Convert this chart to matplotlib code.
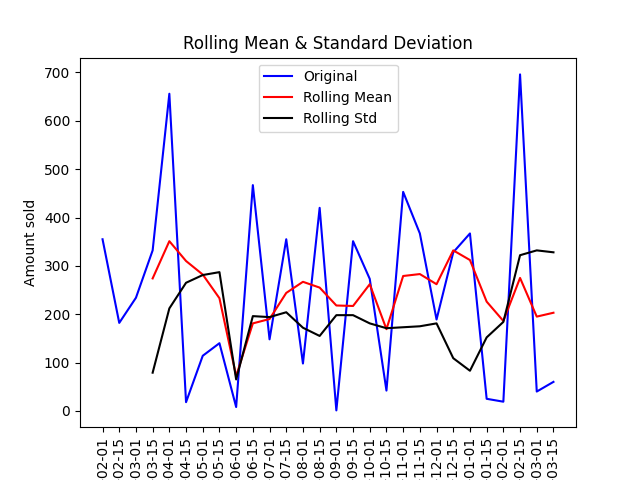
import matplotlib
matplotlib.use("Agg")
import matplotlib.pyplot as plt

# Half-monthly dates (year part is clipped off in the reference)
dates = [
    "2017-02-01", "2017-02-15", "2017-03-01", "2017-03-15", "2017-04-01", "2017-04-15",
    "2017-05-01", "2017-05-15", "2017-06-01", "2017-06-15", "2017-07-01", "2017-07-15",
    "2017-08-01", "2017-08-15", "2017-09-01", "2017-09-15", "2017-10-01", "2017-10-15",
    "2017-11-01", "2017-11-15", "2017-12-01", "2017-12-15", "2018-01-01", "2018-01-15",
    "2018-02-01", "2018-02-15", "2018-03-01", "2018-03-15",
]

original = [355, 182, 234, 332, 656, 18, 114, 140, 8, 467, 148, 355, 98, 420,
            1, 351, 273, 42, 453, 367, 189, 328, 367, 25, 19, 696, 40, 60]

rolling_mean = [None, None, None, 274, 351, 310, 282, 233, 72, 181, 190, 244, 267, 255,
                218, 217, 262, 169, 279, 283, 262, 332, 312, 226, 186, 275, 195, 203]

rolling_std = [None, None, None, 79, 212, 265, 281, 287, 65, 196, 194, 204, 172, 155,
               198, 198, 181, 171, 173, 175, 181, 109, 83, 152, 184, 322, 332, 328]

mean_vals = [float("nan") if v is None else v for v in rolling_mean]
std_vals = [float("nan") if v is None else v for v in rolling_std]

fig, ax = plt.subplots(figsize=(6.4, 4.8), dpi=100)
x = list(range(len(dates)))
ax.plot(x, original, color="blue", label="Original")
ax.plot(x, mean_vals, color="red", label="Rolling Mean")
ax.plot(x, std_vals, color="black", label="Rolling Std")

ax.set_xticks(x)
ax.set_xticklabels(dates, rotation=90)
ax.set_ylabel("Amount sold")
ax.set_title("Rolling Mean & Standard Deviation")
ax.legend(loc="best")

fig.savefig("out.png", dpi=100)
plt.close(fig)
